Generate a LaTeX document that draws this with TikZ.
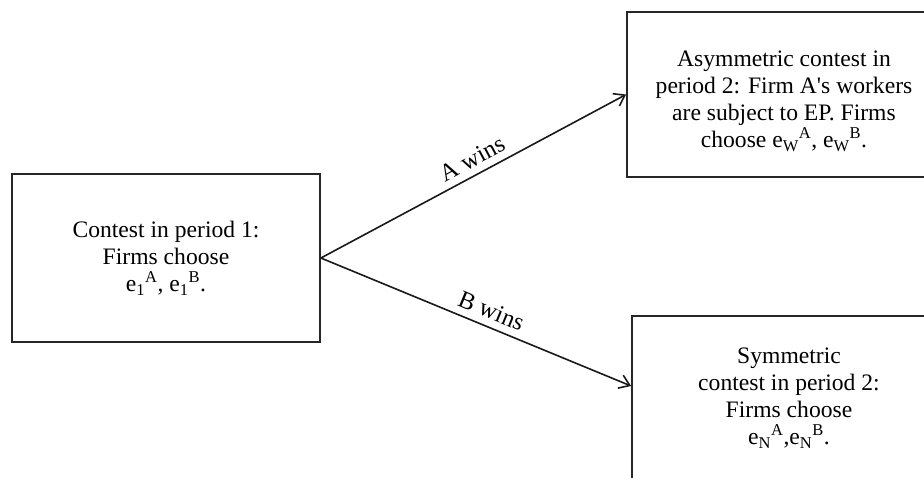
\documentclass[tikz,border=0pt]{standalone}
\usepackage{fontspec}
\setmainfont{Liberation Serif}
\usetikzlibrary{arrows.meta}
\begin{document}
\begin{tikzpicture}[x=1pt,y=-1pt,
  txt/.style={align=center, inner sep=0pt, font=\fontsize{23.6}{27}\selectfont},
  box/.style={txt, draw=black!85, line width=1.8pt},
  conn/.style={line width=1.6pt, draw=black!90, -{Straight Barb[length=10pt,width=14pt,line width=1.6pt]}},
  lab/.style={font=\fontsize{24.5}{27}\selectfont, sloped, above, inner sep=7pt}]
\useasboundingbox (0,0) rectangle (924,477);
\clip (0,0) rectangle (924,477);
\fill[white] (0,0) rectangle (924,477);
\node[box, minimum width=308pt, minimum height=168pt] (L) at (166,258)
  {Contest in period 1:\\Firms choose\\e\textsubscript{1}\textsuperscript{A}, e\textsubscript{1}\textsuperscript{B}.};
\node[box, minimum width=314pt, minimum height=165pt] (T) at (784,94.5) {};
\node[txt] (Tt) at (784,101)
  {Asymmetric contest in\\period 2: Firm A\textquotesingle s workers\\are subject to EP. Firms\\choose e\textsubscript{W}\textsuperscript{A}, e\textsubscript{W}\textsuperscript{B}.};
\node[box, minimum width=314pt, minimum height=164pt] (B) at (789,398)
  {Symmetric\\contest in period 2:\\Firms choose\\e\textsubscript{N}\textsuperscript{A},e\textsubscript{N}\textsuperscript{B}.};
\draw[conn] (L.east) -- node[lab, pos=0.52] {A wins} (T.west);
\draw[conn] (L.east) -- node[lab, pos=0.53] {B wins} ([yshift=12pt]B.west);
\end{tikzpicture}
\end{document}
